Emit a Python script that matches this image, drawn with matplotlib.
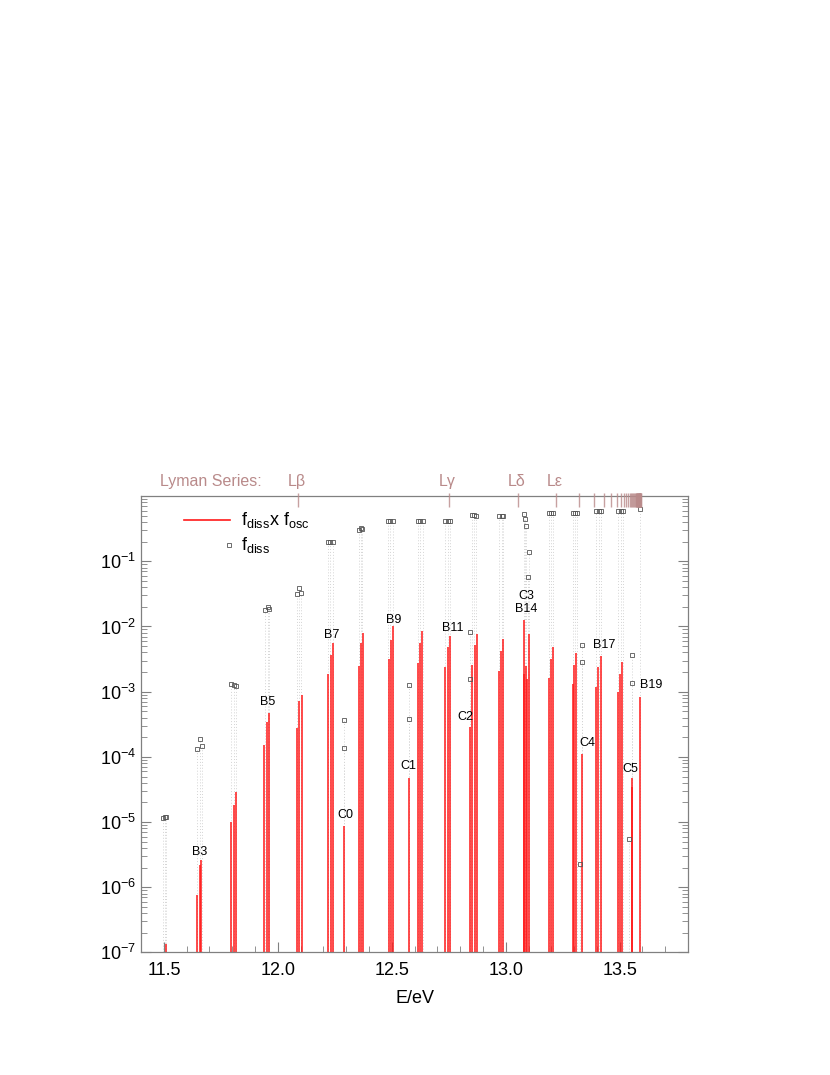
import matplotlib.pyplot as plt
from matplotlib.ticker import MultipleLocator, LogLocator, NullFormatter
import matplotlib.transforms as mtransforms

plt.rcParams['font.family'] = ['Liberation Sans', 'DejaVu Sans']
plt.rcParams['mathtext.fontset'] = 'custom'
plt.rcParams['mathtext.rm'] = 'Liberation Sans'
plt.rcParams['mathtext.it'] = 'Liberation Sans'

# f_diss x f_osc  (red sticks)
bar_E = [11.510, 11.645, 11.658, 11.665, 11.796, 11.809, 11.816,
         11.940, 11.952, 11.961, 12.083, 12.095, 12.104,
         12.221, 12.232, 12.241, 12.291, 12.355, 12.365, 12.374,
         12.486, 12.495, 12.504, 12.577, 12.613, 12.624, 12.633,
         12.735, 12.745, 12.755, 12.844, 12.853, 12.863, 12.874,
         12.970, 12.979, 12.989, 13.080, 13.082, 13.088, 13.094, 13.101,
         13.190, 13.199, 13.209, 13.293, 13.301, 13.310, 13.335,
         13.397, 13.406, 13.417, 13.494, 13.502, 13.511,
         13.552, 13.554, 13.590]
bar_val = [1.37e-7, 7.6e-7, 2.2e-6, 2.6e-6, 9.9e-6, 1.8e-5, 2.9e-5,
           1.5e-4, 3.4e-4, 4.7e-4, 2.8e-4, 7.1e-4, 8.9e-4,
           1.9e-3, 3.6e-3, 5.5e-3, 8.7e-6, 2.5e-3, 5.6e-3, 8.0e-3,
           3.2e-3, 6.3e-3, 1.02e-2, 4.7e-5, 2.8e-3, 5.6e-3, 8.5e-3,
           2.4e-3, 4.9e-3, 7.2e-3, 2.9e-4, 2.6e-3, 5.2e-3, 7.8e-3,
           2.1e-3, 4.2e-3, 6.4e-3, 1.9e-3, 1.25e-2, 2.5e-3, 1.56e-3, 7.6e-3,
           1.6e-3, 3.2e-3, 4.9e-3, 1.3e-3, 2.6e-3, 3.9e-3, 1.1e-4,
           1.19e-3, 2.35e-3, 3.5e-3, 9.9e-4, 1.9e-3, 2.9e-3,
           4.7e-5, 3.5e-5, 8.3e-4]

# f_diss (open squares)
sq_E = [11.494, 11.503, 11.511, 11.645, 11.658, 11.666,
        11.796, 11.808, 11.815, 11.943, 11.955, 11.961,
        12.084, 12.093, 12.103, 12.221, 12.230, 12.241,
        12.291, 12.291, 12.355, 12.364, 12.370,
        12.482, 12.492, 12.504, 12.577, 12.577,
        12.613, 12.625, 12.635, 12.735, 12.745, 12.757,
        12.844, 12.844, 12.853, 12.862, 12.870,
        12.970, 12.982, 12.990,
        13.082, 13.084, 13.088, 13.101, 13.097,
        13.190, 13.199, 13.208, 13.294, 13.304, 13.312,
        13.333, 13.333, 13.325, 13.398, 13.408, 13.416,
        13.494, 13.506, 13.514, 13.552, 13.554, 13.540, 13.591]
sq_val = [1.15e-5, 1.2e-5, 1.2e-5, 1.3e-4, 1.9e-4, 1.47e-4,
          1.30e-3, 1.26e-3, 1.23e-3, 1.82e-2, 1.96e-2, 1.86e-2,
          3.13e-2, 3.96e-2, 3.27e-2, 0.20, 0.20, 0.20,
          3.66e-4, 1.35e-4, 0.30, 0.32, 0.31,
          0.41, 0.41, 0.41, 1.26e-3, 3.8e-4,
          0.41, 0.41, 0.41, 0.41, 0.41, 0.41,
          8.1e-3, 1.56e-3, 0.52, 0.52, 0.50,
          0.50, 0.50, 0.50,
          0.54, 0.45, 0.345, 0.139, 0.0565,
          0.55, 0.55, 0.55, 0.55, 0.55, 0.55,
          5.2e-3, 2.83e-3, 2.24e-6, 0.60, 0.60, 0.60,
          0.60, 0.60, 0.60, 3.7e-3, 1.34e-3, 5.5e-6, 0.63]

# band labels
lab_text = ['B3', 'B5', 'B7', 'B9', 'B11', 'C0', 'C1', 'C2', 'C3\nB14',
            'C4', 'B17', 'C5', 'B19']
lab_E = [11.657, 11.954, 12.238, 12.507, 12.767, 12.295, 12.574, 12.822,
         13.091, 13.358, 13.432, 13.545, 13.636]
lab_val = [2.6e-6, 5.2e-4, 5.5e-3, 9.3e-3, 7.1e-3, 9.5e-6, 5.4e-5, 3.1e-4,
           1.4e-2, 1.22e-4, 3.86e-3, 4.9e-5, 9.4e-4]

# Lyman series line positions (eV)
lyman_E = [12.087, 12.749, 13.054, 13.220, 13.320, 13.386, 13.430, 13.462,
           13.486, 13.504, 13.518, 13.529, 13.538, 13.545, 13.551, 13.556,
           13.560, 13.564, 13.567, 13.570, 13.572, 13.574, 13.576, 13.578,
           13.579, 13.581, 13.582, 13.583, 13.584, 13.585, 13.586, 13.587,
           13.588, 13.589, 13.590, 13.591, 13.592, 13.593]
lyman_lab = ['L\u03b2', 'L\u03b3', 'L\u03b4', 'L\u03b5']

fig = plt.figure(figsize=(8.3, 10.75), dpi=100)
ax = fig.add_axes([0.170, 0.114, 0.659, 0.4245])

ymin, ymax = 1e-7, 1.0
lyc = '#b98a8a'

# dotted drop lines under the f_diss squares
ax.vlines(sq_E, ymin, sq_val, colors='#d4d4d4', linestyles=(0, (1, 2)), linewidth=0.7, zorder=1)
# f_diss x f_osc sticks
ax.vlines(bar_E, ymin, bar_val, colors='#ff1a1a', linewidth=1.3, alpha=0.85, zorder=2)
# f_diss squares
ax.plot(sq_E, sq_val, 's', ms=3.2, mfc='none', mec='#555555', mew=0.6, zorder=3)

for t, e, v in zip(lab_text, lab_E, lab_val):
    ax.text(e, v * 1.08, t, ha='center', va='bottom', fontsize=9, linespacing=1.1)

ax.set_yscale('log')
ax.set_xlim(11.4, 13.8)
ax.set_ylim(ymin, ymax)
ax.set_yticks([1e-7, 1e-6, 1e-5, 1e-4, 1e-3, 1e-2, 1e-1])
ax.yaxis.set_minor_locator(LogLocator(base=10, subs=range(2, 10), numticks=20))
ax.yaxis.set_minor_formatter(NullFormatter())
ax.xaxis.set_major_locator(MultipleLocator(0.5))
ax.xaxis.set_minor_locator(MultipleLocator(0.1))
ax.set_xticks([11.5, 12.0, 12.5, 13.0, 13.5])
ax.set_xticklabels(['11.5', '12.0', '12.5', '13.0', '13.5'])

ax.tick_params(which='both', direction='in', colors='#808080', labelcolor='black',
               labelsize=13, top=False, right=True)
ax.tick_params(axis='x', pad=7)
ax.tick_params(which='major', length=7, width=0.8)
ax.tick_params(which='minor', length=4, width=0.6)
for s in ax.spines.values():
    s.set_color('#808080')
    s.set_linewidth(0.9)

ax.set_xlabel('E/eV', fontsize=13, labelpad=8)

# Lyman series marks on the top axis
trans = mtransforms.blended_transform_factory(ax.transData, ax.transAxes)
ax.vlines(lyman_E, 0.976, 1.007, colors=lyc, linewidth=1.0, alpha=0.8,
          transform=trans, clip_on=False, zorder=4)
for e, t in zip(lyman_E[:4], lyman_lab):
    ax.text(e - 0.005, 1.016, t, transform=trans, ha='center', va='bottom',
            fontsize=11.5, color=lyc)
ax.text(0.128, 1.016, 'Lyman Series:', transform=ax.transAxes, ha='center',
        va='bottom', fontsize=11.5, color=lyc)

# key
ax.plot([0.078, 0.162], [0.947, 0.947], color='#ff1a1a', lw=1.2, transform=ax.transAxes)
ax.text(0.1835, 0.947, r'$\mathregular{f_{diss}}$x $\mathregular{f_{osc}}$',
        transform=ax.transAxes, ha='left', va='center', fontsize=13)
ax.plot([0.161], [0.8926], 's', ms=3.2, mfc='none', mec='#555555', mew=0.6,
        transform=ax.transAxes)
ax.text(0.1835, 0.8926, r'$\mathregular{f_{diss}}$', transform=ax.transAxes,
        ha='left', va='center', fontsize=13)

fig.savefig('out.png', dpi=100)
